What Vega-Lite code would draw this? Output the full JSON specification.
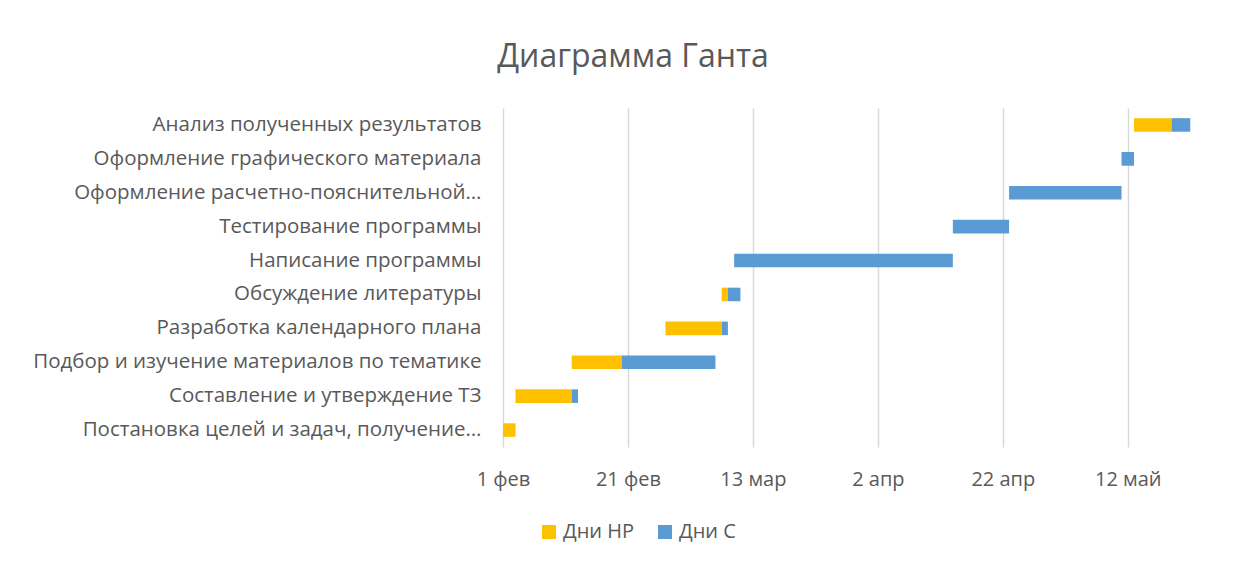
{
  "$schema": "https://vega.github.io/schema/vega-lite/v6.json",
  "width": 706,
  "height": 339,
  "autosize": {"type": "none"},
  "padding": {"left": 503, "top": 108, "right": 36, "bottom": 116},
  "background": "white",
  "config": {
    "font": "Open Sans",
    "view": {"stroke": null}
  },
  "title": {
    "text": "Диаграмма Ганта",
    "fontSize": 32,
    "fontWeight": "normal",
    "font": "Open Sans",
    "color": "#595959",
    "anchor": "middle",
    "dx": -223,
    "offset": 34
  },
  "data": {
    "values": [
      {"task": "Постановка целей и задач, получение…", "series": "Дни НР", "start": "2021-02-01", "end": "2021-02-03"},
      {"task": "Составление и утверждение ТЗ", "series": "Дни НР", "start": "2021-02-03", "end": "2021-02-12"},
      {"task": "Составление и утверждение ТЗ", "series": "Дни С", "start": "2021-02-12", "end": "2021-02-13"},
      {"task": "Подбор и изучение материалов по тематике", "series": "Дни НР", "start": "2021-02-12", "end": "2021-02-20"},
      {"task": "Подбор и изучение материалов по тематике", "series": "Дни С", "start": "2021-02-20", "end": "2021-03-07"},
      {"task": "Разработка календарного плана", "series": "Дни НР", "start": "2021-02-27", "end": "2021-03-08"},
      {"task": "Разработка календарного плана", "series": "Дни С", "start": "2021-03-08", "end": "2021-03-09"},
      {"task": "Обсуждение литературы", "series": "Дни НР", "start": "2021-03-08", "end": "2021-03-09"},
      {"task": "Обсуждение литературы", "series": "Дни С", "start": "2021-03-09", "end": "2021-03-11"},
      {"task": "Написание программы", "series": "Дни С", "start": "2021-03-10", "end": "2021-04-14"},
      {"task": "Тестирование программы ", "series": "Дни С", "start": "2021-04-14", "end": "2021-04-23"},
      {"task": "Оформление расчетно-пояснительной…", "series": "Дни С", "start": "2021-04-23", "end": "2021-05-11"},
      {"task": "Оформление графического материала", "series": "Дни С", "start": "2021-05-11", "end": "2021-05-13"},
      {"task": "Анализ полученных результатов", "series": "Дни НР", "start": "2021-05-13", "end": "2021-05-19"},
      {"task": "Анализ полученных результатов", "series": "Дни С", "start": "2021-05-19", "end": "2021-05-22"}
    ]
  },
  "mark": {"type": "bar"},
  "encoding": {
    "y": {
      "field": "task",
      "type": "nominal",
      "sort": [
        "Анализ полученных результатов",
        "Оформление графического материала",
        "Оформление расчетно-пояснительной…",
        "Тестирование программы ",
        "Написание программы",
        "Обсуждение литературы",
        "Разработка календарного плана",
        "Подбор и изучение материалов по тематике",
        "Составление и утверждение ТЗ",
        "Постановка целей и задач, получение…"
      ],
      "scale": {"paddingInner": 0.6, "paddingOuter": 0.3},
      "axis": {
        "title": null,
        "domain": false,
        "ticks": false,
        "labelFontSize": 20.5,
        "labelColor": "#595959",
        "labelPadding": 22,
        "labelLimit": 0
      }
    },
    "x": {
      "field": "start",
      "type": "temporal",
      "scale": {"type": "utc", "domain": [1612137600000, 1621900800000]},
      "axis": {
        "title": null,
        "values": [1612137600000, 1613865600000, 1615593600000, 1617321600000, 1619049600000, 1620777600000],
        "labelExpr": "utcdate(datum.value) + ' ' + ['янв','фев','мар','апр','май','июн'][utcmonth(datum.value)]",
        "labelFlush": false,
        "labelOverlap": false,
        "domain": false,
        "ticks": false,
        "grid": true,
        "gridColor": "#D9D9D9",
        "gridWidth": 1.5,
        "labelFontSize": 20,
        "labelColor": "#595959",
        "labelPadding": 22
      }
    },
    "x2": {"field": "end"},
    "color": {
      "field": "series",
      "type": "nominal",
      "scale": {"domain": ["Дни НР", "Дни С"], "range": ["#FFC000", "#5B9BD5"]},
      "legend": {
        "title": null,
        "orient": "none",
        "legendX": 36,
        "legendY": 414,
        "direction": "horizontal",
        "symbolType": "square",
        "symbolSize": 196,
        "symbolStrokeWidth": 0,
        "labelFontSize": 20,
        "labelColor": "#595959",
        "labelOffset": 4,
        "columnPadding": 20
      }
    }
  }
}
